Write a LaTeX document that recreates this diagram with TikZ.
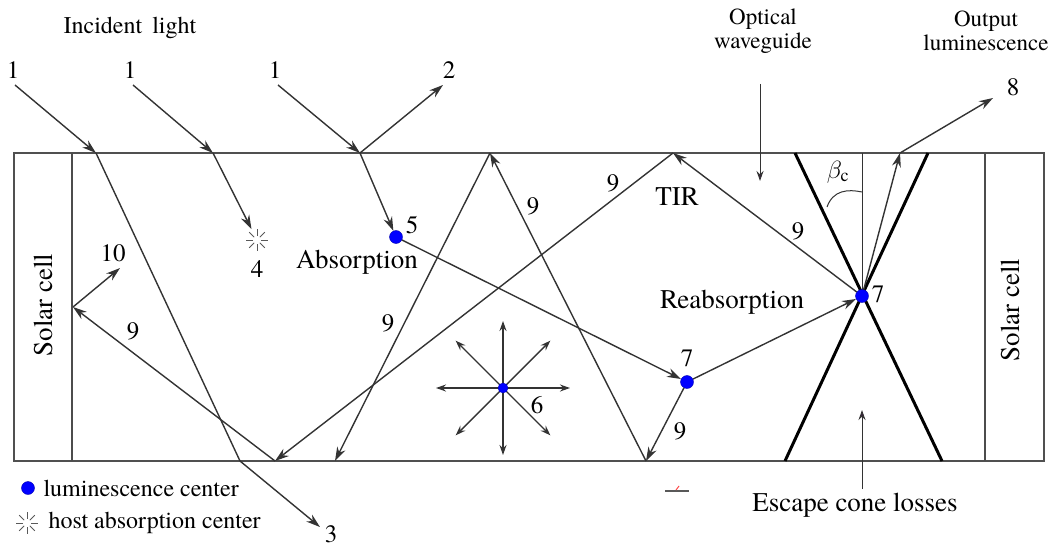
\documentclass[tikz,border=0pt]{standalone}
\usepackage{fontspec}
\IfFontExistsTF{texgyretermes-regular.otf}
  {\setmainfont{texgyretermes-regular.otf}}
  {\setmainfont{Liberation Serif}}
\usetikzlibrary{arrows.meta}
\definecolor{raygray}{HTML}{333333}
\definecolor{wallgray}{HTML}{505050}
\definecolor{darkplum}{HTML}{3A1A40}
\tikzset{
  hoststar/.pic={\foreach \a in {0,45,...,315} \draw[gray!70!black,line width=0.9pt] (\a:4) -- (\a:11);}
}
\begin{document}
\begin{tikzpicture}[x=1pt,y=-1pt,
  ray/.style={raygray,line width=1.4pt},
  arr/.style={ray,-{Stealth[length=14pt,width=9pt]}},
  sarr/.style={ray,-{Stealth[length=10pt,width=7pt]}},
  lum/.style={circle,fill=blue,draw=blue!70!black,inner sep=0pt,minimum size=13pt},
  num/.style={font=\rmfamily\fontsize{25}{28}\selectfont},
  txt/.style={font=\rmfamily\fontsize{27}{30}\selectfont},
  captxt/.style={font=\rmfamily\fontsize{23}{24}\selectfont,align=center},
  cone/.style={black,line width=3pt},
  wall/.style={wallgray,line width=2.2pt}]
  \useasboundingbox (0,0) rectangle (1059,548);

  % waveguide and solar cells
  \draw[wall] (14,153) rectangle (1044,461);
  \draw[gray!60!black,line width=1.4pt] (72,153) -- (72,461);
  \draw[gray!60!black,line width=1.4pt] (985,153) -- (985,461);
  \node[txt,rotate=90] (sl) at (43,305) {Solar cell};
  \node[txt,rotate=90] (sr) at (1010,310) {Solar cell};

  % points on the faces
  \coordinate (p1) at (96,153);  \coordinate (p2) at (213,153);  \coordinate (p3) at (360,153);
  \coordinate (t1) at (490,153); \coordinate (t2) at (673,153);  \coordinate (t3) at (900,153);
  \coordinate (q1) at (240,461); \coordinate (b1) at (646,461);  \coordinate (b2) at (335,461);
  \coordinate (b3) at (275,461); \coordinate (sc) at (73,307);
  \coordinate (s1) at (15,85);   \coordinate (s2) at (133,85);   \coordinate (s3) at (278,85);
  \coordinate (e2) at (443,85);  \coordinate (e3) at (320,527);  \coordinate (e8) at (993,98);
  \coordinate (e10) at (120,268);

  % escape cone
  \draw[cone] (795,153) -- (942,461);
  \draw[cone] (928,153) -- (785,461);
  \draw[raygray,line width=1pt] (862,153) -- (862,296);
  \draw[raygray,line width=1pt] (827,207) .. controls (833,190) and (848,189) .. (862,192);
  \node[font=\fontsize{26}{28}\selectfont] (bc) at (838,172) {$\beta_{\mathrm{c}}$};

  % centres
  \node[lum] (c5) at (396,237) {};
  \node[lum] (c7a) at (687,382) {};
  \node[lum] (c7b) at (862,296) {};
  \node[circle,minimum size=24pt,inner sep=0pt] (h4) at (257,240) {};
  \pic at (h4) {hoststar};

  % incident light
  \node[captxt,font=\rmfamily\fontsize{24}{26}\selectfont] (inc) at (130,28) {Incident\ \,light};
  \node[num] (n1a) at (13,70) {1};
  \node[num] (n1b) at (130,70) {1};
  \node[num] (n1c) at (275,70) {1};
  \draw[arr] (s1) -- (p1);
  \draw[ray] (p1) -- (q1);
  \draw[arr] (q1) -- (e3);
  \draw[arr] (s2) -- (p2);
  \draw[arr] (p2) -- (h4);
  \draw[arr] (s3) -- (p3);
  \draw[arr] (p3) -- (e2);
  \draw[arr] (p3) -- (c5);

  % luminescence paths
  \draw[arr] (c5) -- (c7a);
  \draw[arr] (c7a) -- (c7b);
  \draw[arr] (c7a) -- (b1);
  \draw[arr] (b1) -- (t1);
  \draw[arr] (t1) -- (b2);
  \draw[arr] (c7b) -- (t2);
  \draw[arr] (t2) -- (b3);
  \draw[arr] (b3) -- (sc);
  \draw[arr] (sc) -- (e10);
  \draw[arr] (c7b) -- (t3);
  \draw[arr] (t3) -- (e8);

  % isotropic emission
  \coordinate (burst) at (503,388);
  \foreach \a in {0,45,...,315} \draw[sarr] (burst) -- ++(\a:67);
  \node[lum,minimum size=10pt] (c6) at (burst) {};

  % numbers
  \node[num] (n2) at (449,70) {2};
  \node[num] (n3) at (331,534) {3};
  \node[num] (n4) at (257,269) {4};
  \node[num] (n5) at (412,225) {5};
  \node[num] (n6) at (537,405) {6};
  \node[num] (n7a) at (687,358) {7};
  \node[num] (n7b) at (878,294) {7};
  \node[num] (n8) at (1013,87) {8};
  \node[num] (n10) at (113,253) {10};
  \node[num] (g1) at (680,431) {9};
  \node[num] (g2) at (533,206) {9};
  \node[num] (g3) at (388,323) {9};
  \node[num] (g4) at (798,231) {9};
  \node[num] (g5) at (613,183) {9};
  \node[num] (g6) at (133,331) {9};

  % labels
  \node[txt] (abs) at (357,262) {Absorption};
  \node[txt] (reabs) at (732,302) {Reabsorption};
  \node[txt] (tir) at (677,197) {TIR};
  \node[captxt] (wg) at (763,31) {Optical\\waveguide};
  \node[captxt] (out) at (986,31) {Output\\luminescence};
  \node[txt] (esc) at (855,505) {Escape cone losses};
  \coordinate (wgtip) at (760,181);
  \coordinate (esctip) at (862,410);
  \draw[raygray,line width=1pt,-{Stealth[length=10pt,width=7pt,fill=darkplum]}] (760,84) -- (wgtip);
  \draw[raygray,line width=1pt,-{Stealth[length=10pt,width=7pt,fill=darkplum]}] (862,489) -- (esctip);
  \draw[gray!70!black,line width=1.2pt] (665,491) -- (689,491);
  \draw[red!70,line width=1pt] (676,490) -- (679,486);

  % legend
  \node[lum] (k1) at (28,488) {};
  \node[anchor=west,font=\rmfamily\fontsize{24}{26}\selectfont] (k1t) at (40,488) {luminescence center};
  \node[circle,minimum size=22pt,inner sep=0pt] (k2) at (27,523) {};
  \pic at (k2) {hoststar};
  \node[anchor=west,font=\rmfamily\fontsize{24}{26}\selectfont] (k2t) at (45,523) {host absorption center};
\end{tikzpicture}
\end{document}
